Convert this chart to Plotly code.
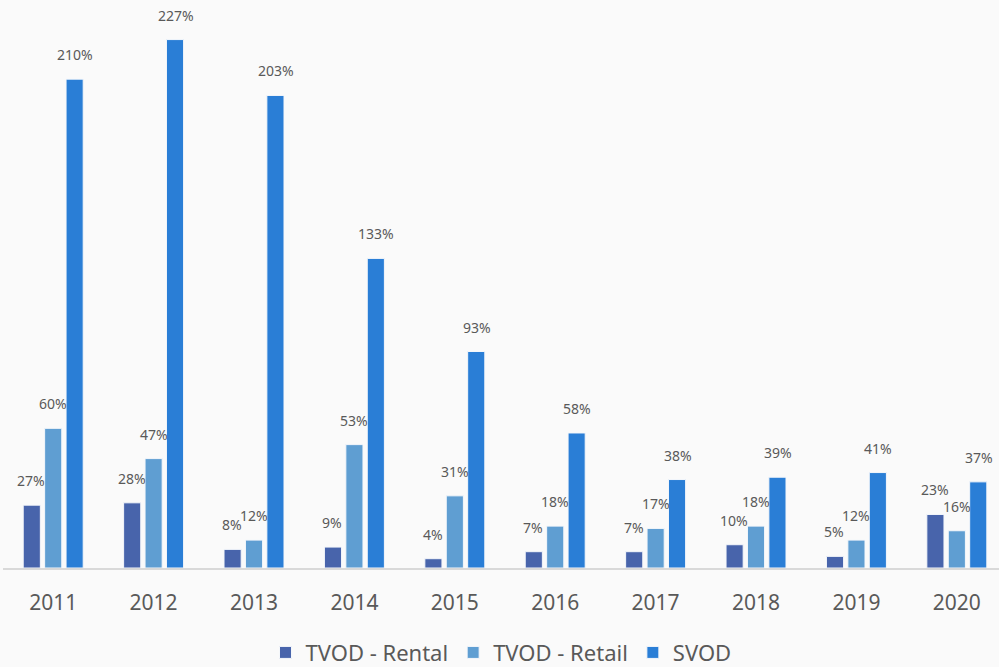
import plotly.graph_objects as go

years = ['2011', '2012', '2013', '2014', '2015', '2016', '2017', '2018', '2019', '2020']
rental = [27, 28, 8, 9, 4, 7, 7, 10, 5, 23]
retail = [60, 47, 12, 53, 31, 18, 17, 18, 12, 16]
svod = [210, 227, 203, 133, 93, 58, 38, 39, 41, 37]

series = [
    ('TVOD - Rental', rental, '#4864ab'),
    ('TVOD - Retail', retail, '#5f9ed2'),
    ('SVOD', svod, '#2a7ed6'),
]

fig = go.Figure()
for i, (name, vals, color) in enumerate(series):
    fig.add_trace(go.Bar(
        x=years, y=vals, name=name,
        marker=dict(color=color, line=dict(color='#f4f7fb', width=1)),
    ))
    # data labels, shifted to sit over each bar of the group
    # (category axis -> annotation x is the category index)
    for j, v in enumerate(vals):
        fig.add_annotation(
            x=j, y=v, text=f'{v}%', showarrow=False,
            xshift=(i - 1) * 22, yshift=13, yanchor='bottom',
            font=dict(size=14, color='#595959'),
        )

fig.update_layout(
    width=999, height=667,
    paper_bgcolor='#fafafa', plot_bgcolor='#fafafa',
    font=dict(family='Noto Sans, Open Sans, sans-serif', color='#595959'),
    barmode='group', bargap=0.36, bargroupgap=0.2,
    margin=dict(l=3, r=0, t=0, b=99, autoexpand=False),
    xaxis=dict(
        range=[-0.5, 9.42], showline=True, linecolor='#d9d9d9', linewidth=2,
        tickfont=dict(size=21, color='#595959'), ticks='', ticklabelstandoff=15,
        showgrid=False,
    ),
    yaxis=dict(range=[0, 244], visible=False, showgrid=False),
    legend=dict(orientation='h', x=0.5, xanchor='center', y=-0.112, yanchor='top',
                font=dict(size=22, color='#595959'), itemwidth=30),
)

fig.write_html('out.html', config={'displayModeBar': False},
               post_script="document.body.style.margin='0';document.body.style.overflow='hidden';")
